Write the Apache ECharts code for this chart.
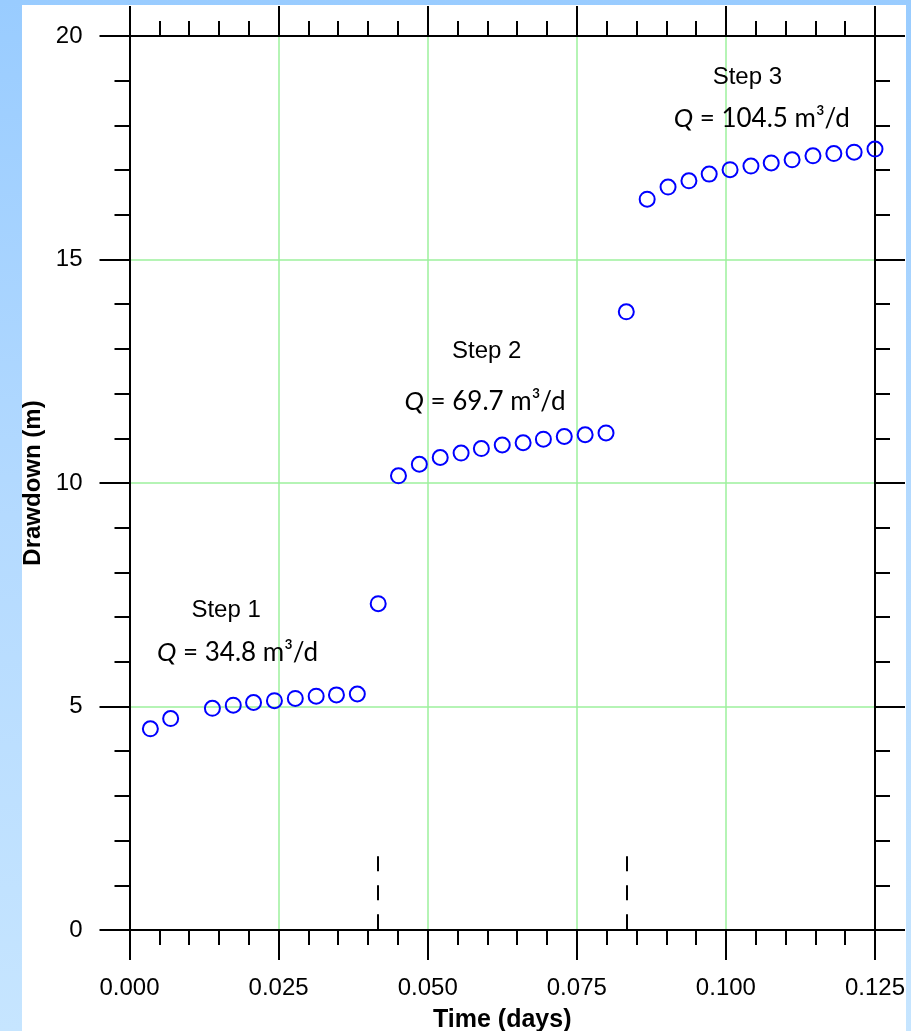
<!DOCTYPE html>
<html>
<head>
<meta charset="utf-8">
<script src="https://cdn.jsdelivr.net/npm/echarts@6/dist/echarts.min.js"></script>
<style>
  html, body { margin: 0; padding: 0; width: 911px; height: 1031px; overflow: hidden;
    background: linear-gradient(to bottom, #99ccff 0%, #b4daff 50%, #c6e5ff 100%); }
  #panel { position: absolute; left: 22px; top: 5px; width: 884px; height: 1026px; background: #ffffff; }
  #chart { position: absolute; left: 0; top: 0; width: 911px; height: 1031px; }
</style>
</head>
<body>
<div id="panel"></div>
<div id="chart"></div>
<script>
// Step-drawdown test: elapsed time (days) and drawdown (m)
const timeDays = [
  0.0035, 0.0069, 0.0139, 0.0174, 0.0208, 0.0243, 0.0278, 0.0313, 0.0347, 0.0382, 0.0417,
  0.0451, 0.0486, 0.0521, 0.0556, 0.0590, 0.0625, 0.0660, 0.0694, 0.0729, 0.0764, 0.0799, 0.0833,
  0.0868, 0.0903, 0.0938, 0.0972, 0.1007, 0.1042, 0.1076, 0.1111, 0.1146, 0.1181, 0.1215, 0.1250
];
const drawdownM = [
  4.50, 4.73, 4.96, 5.03, 5.09, 5.13, 5.18, 5.23, 5.26, 5.28, 7.30,
  10.16, 10.42, 10.57, 10.67, 10.77, 10.85, 10.90, 10.98, 11.04, 11.08, 11.12, 13.83,
  16.35, 16.62, 16.76, 16.91, 17.01, 17.09, 17.16, 17.23, 17.32, 17.37, 17.40, 17.47
];
// Times at which the pumping rate was stepped up (days)
const stepChangeTimes = [0.04167, 0.08333];
// Step annotations
const stepNames = ['Step 1', 'Step 2', 'Step 3'];
const stepRates = ['34.8', '69.7', '104.5'];
// Axis tick labels
const xTickLabels = ['0.000', '0.025', '0.050', '0.075', '0.100', '0.125'];
const yTickLabels = ['0', '5', '10', '15', '20'];

// where each annotation is centred, in data units [time, drawdown]
const stepTitleAt = [[0.0162, 7.14], [0.0599, 12.94], [0.1036, 19.07]];
const stepRateAt  = [[0.0181, 6.20], [0.0596, 11.83], [0.1060, 18.16]];

const AX = '#000000';
const GRID_GREEN = '#9cf09c';
const SANS = 'Liberation Sans, Arial, sans-serif';

function axisCommon(isX, showLabels, showSplit) {
  return {
    type: 'value',
    min: 0,
    max: isX ? 0.125 : 20,
    interval: isX ? 0.025 : 5,
    axisLine: { show: true, onZero: false, lineStyle: { color: AX, width: 2 } },
    axisTick: { show: true, inside: false, length: 30, lineStyle: { color: AX, width: 2 } },
    minorTick: { show: true, splitNumber: 5, length: 15, lineStyle: { color: AX, width: 2 } },
    splitLine: { show: showSplit, lineStyle: { color: GRID_GREEN, width: 1.5 } },
    minorSplitLine: { show: false },
    axisLabel: {
      show: showLabels,
      color: '#000',
      fontFamily: SANS,
      fontSize: 24,
      margin: isX ? 46 : 47,
      padding: isX ? 0 : [0, 0, 8, 0],
      formatter: function (v) {
        const idx = Math.round(v / (isX ? 0.025 : 5));
        return isX ? xTickLabels[idx] : yTickLabels[idx];
      }
    }
  };
}

const xBottom = Object.assign(axisCommon(true, true, true), {
  position: 'bottom',
  name: 'Time (days)',
  nameLocation: 'middle',
  nameGap: 78,
  nameTextStyle: { color: '#000', fontFamily: SANS, fontWeight: 'bold', fontSize: 25 }
});
const xTop = Object.assign(axisCommon(true, false, false), { position: 'top' });
const yLeft = Object.assign(axisCommon(false, true, true), {
  position: 'left',
  name: 'Drawdown (m)',
  nameLocation: 'middle',
  nameGap: 84,
  nameRotate: 90,
  nameTextStyle: { color: '#000', fontFamily: SANS, fontWeight: 'bold', fontSize: 24 }
});
const yRight = Object.assign(axisCommon(false, false, false), { position: 'right' });

const points = timeDays.map((t, i) => [t, drawdownM[i]]);

const chart = echarts.init(document.getElementById('chart'), null, { renderer: 'canvas' });
chart.setOption({
  backgroundColor: 'transparent',
  animation: false,
  grid: { left: 129.5, right: 36, top: 36, bottom: 101, containLabel: false, outerBoundsMode: 'none' },
  xAxis: [xBottom, xTop],
  yAxis: [yLeft, yRight],
  series: [
    {
      type: 'scatter',
      xAxisIndex: 0, yAxisIndex: 0,
      data: points,
      symbol: 'circle',
      symbolSize: 15,
      itemStyle: { color: 'rgba(255,255,255,0)', borderColor: '#0000ff', borderWidth: 2, opacity: 1 },
      z: 3,
      markLine: {
        silent: true,
        symbol: ['none', 'none'],
        label: { show: false },
        lineStyle: { color: '#000', width: 2, type: [15, 14] },
        data: stepChangeTimes.map(t => [{ coord: [t, 1.65] }, { coord: [t, 0] }])
      }
    }
  ]
});

// Step annotations placed through the chart's own coordinate system
const notes = [];
stepNames.forEach((name, i) => {
  const p1 = chart.convertToPixel({ gridIndex: 0 }, stepTitleAt[i]);
  notes.push({
    type: 'text', silent: true, z: 10,
    style: { text: name, x: p1[0], y: p1[1], align: 'center', verticalAlign: 'middle',
      fill: '#000', font: '24px ' + SANS }
  });
  const p2 = chart.convertToPixel({ gridIndex: 0 }, stepRateAt[i]);
  notes.push({
    type: 'text', silent: true, z: 10,
    style: { text: '{q|Q} = ' + stepRates[i] + ' m³/d', x: p2[0], y: p2[1],
      align: 'center', verticalAlign: 'middle', fill: '#000',
      fontFamily: 'Lato, sans-serif', fontSize: 26,
      rich: { q: { fontStyle: 'italic', fontFamily: 'Lato, sans-serif', fontSize: 26, fill: '#000' } } }
  });
});
chart.setOption({ graphic: notes });
</script>
</body>
</html>
